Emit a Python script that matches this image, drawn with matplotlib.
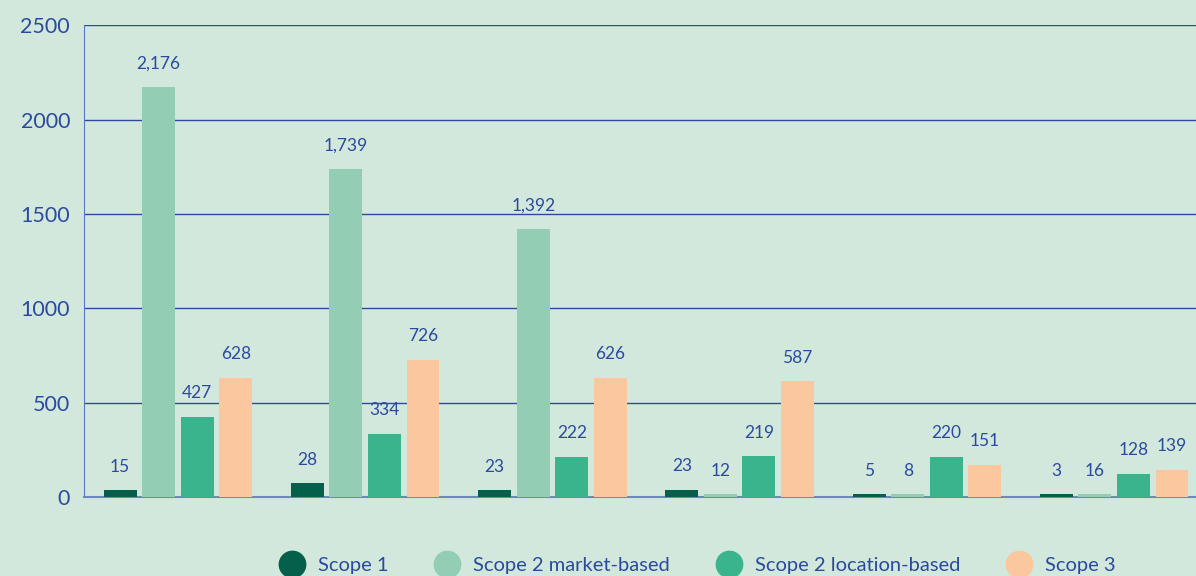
import matplotlib.pyplot as plt
import numpy as np
from matplotlib.lines import Line2D

plt.rcParams["font.family"] = ["Lato", "DejaVu Sans"]

# bar heights as drawn in the picture, and the printed value labels
scope1 = [35, 72, 35, 37, 14, 14]
scope2_market = [2172, 1737, 1420, 15, 14, 14]
scope2_location = [426, 334, 214, 217, 214, 124]
scope3 = [632, 728, 632, 614, 172, 145]

scope1_labels = ["15", "28", "23", "23", "5", "3"]
scope2_market_labels = ["2,176", "1,739", "1,392", "12", "8", "16"]
scope2_location_labels = ["427", "334", "222", "219", "220", "128"]
scope3_labels = ["628", "726", "626", "587", "151", "139"]

series = ["Scope 1", "Scope 2 market-based", "Scope 2 location-based", "Scope 3"]
colors = ["#04604a", "#92cdb4", "#3ab48d", "#fbc79f"]
bg = "#d3e8dc"
blue = "#2b4a9e"

fig = plt.figure(figsize=(11.96, 5.76), dpi=100, facecolor=bg)
ax = fig.add_axes([0.0702, 0.137, 0.93, 0.8194])
ax.set_facecolor(bg)

x = np.arange(6)
step = 0.2057
width = 0.176
all_vals = [scope1, scope2_market, scope2_location, scope3]
all_labels = [scope1_labels, scope2_market_labels, scope2_location_labels, scope3_labels]
for i, (vals, labs) in enumerate(zip(all_vals, all_labels)):
    xs = x + (i - 1.5) * step
    ax.bar(xs, vals, width=width, color=colors[i], zorder=3)
    for xi, v, lab in zip(xs, vals, labs):
        ax.annotate(lab, (xi, v), xytext=(0, 17), textcoords="offset points",
                    ha="center", va="center", color=blue, fontsize=12.5)

ax.set_xlim(-0.502, 5.438)
ax.set_ylim(0, 2500)
ax.set_yticks(np.arange(0, 2501, 500))
ax.set_xticks([])
ax.tick_params(axis="y", length=0, pad=10, labelsize=15.5, labelcolor=blue)
ax.grid(axis="y", color=blue, linewidth=1.0, zorder=1)
ax.set_axisbelow(True)
for s in ["top", "right"]:
    ax.spines[s].set_visible(False)
ax.spines["left"].set_color("#5a74bf")
ax.spines["bottom"].set_color("#6f86c6")
ax.spines["bottom"].set_linewidth(1.5)

handles = [Line2D([], [], marker="o", linestyle="none", markersize=19,
                  markerfacecolor=c, markeredgecolor=c) for c in colors]
fig.legend(handles, series, loc="center", bbox_to_anchor=(0.58, 0.019), ncol=4,
           frameon=False, fontsize=14.5, labelcolor=blue, handletextpad=0.3,
           columnspacing=1.9)

fig.savefig("out.png", dpi=100, facecolor=bg)
